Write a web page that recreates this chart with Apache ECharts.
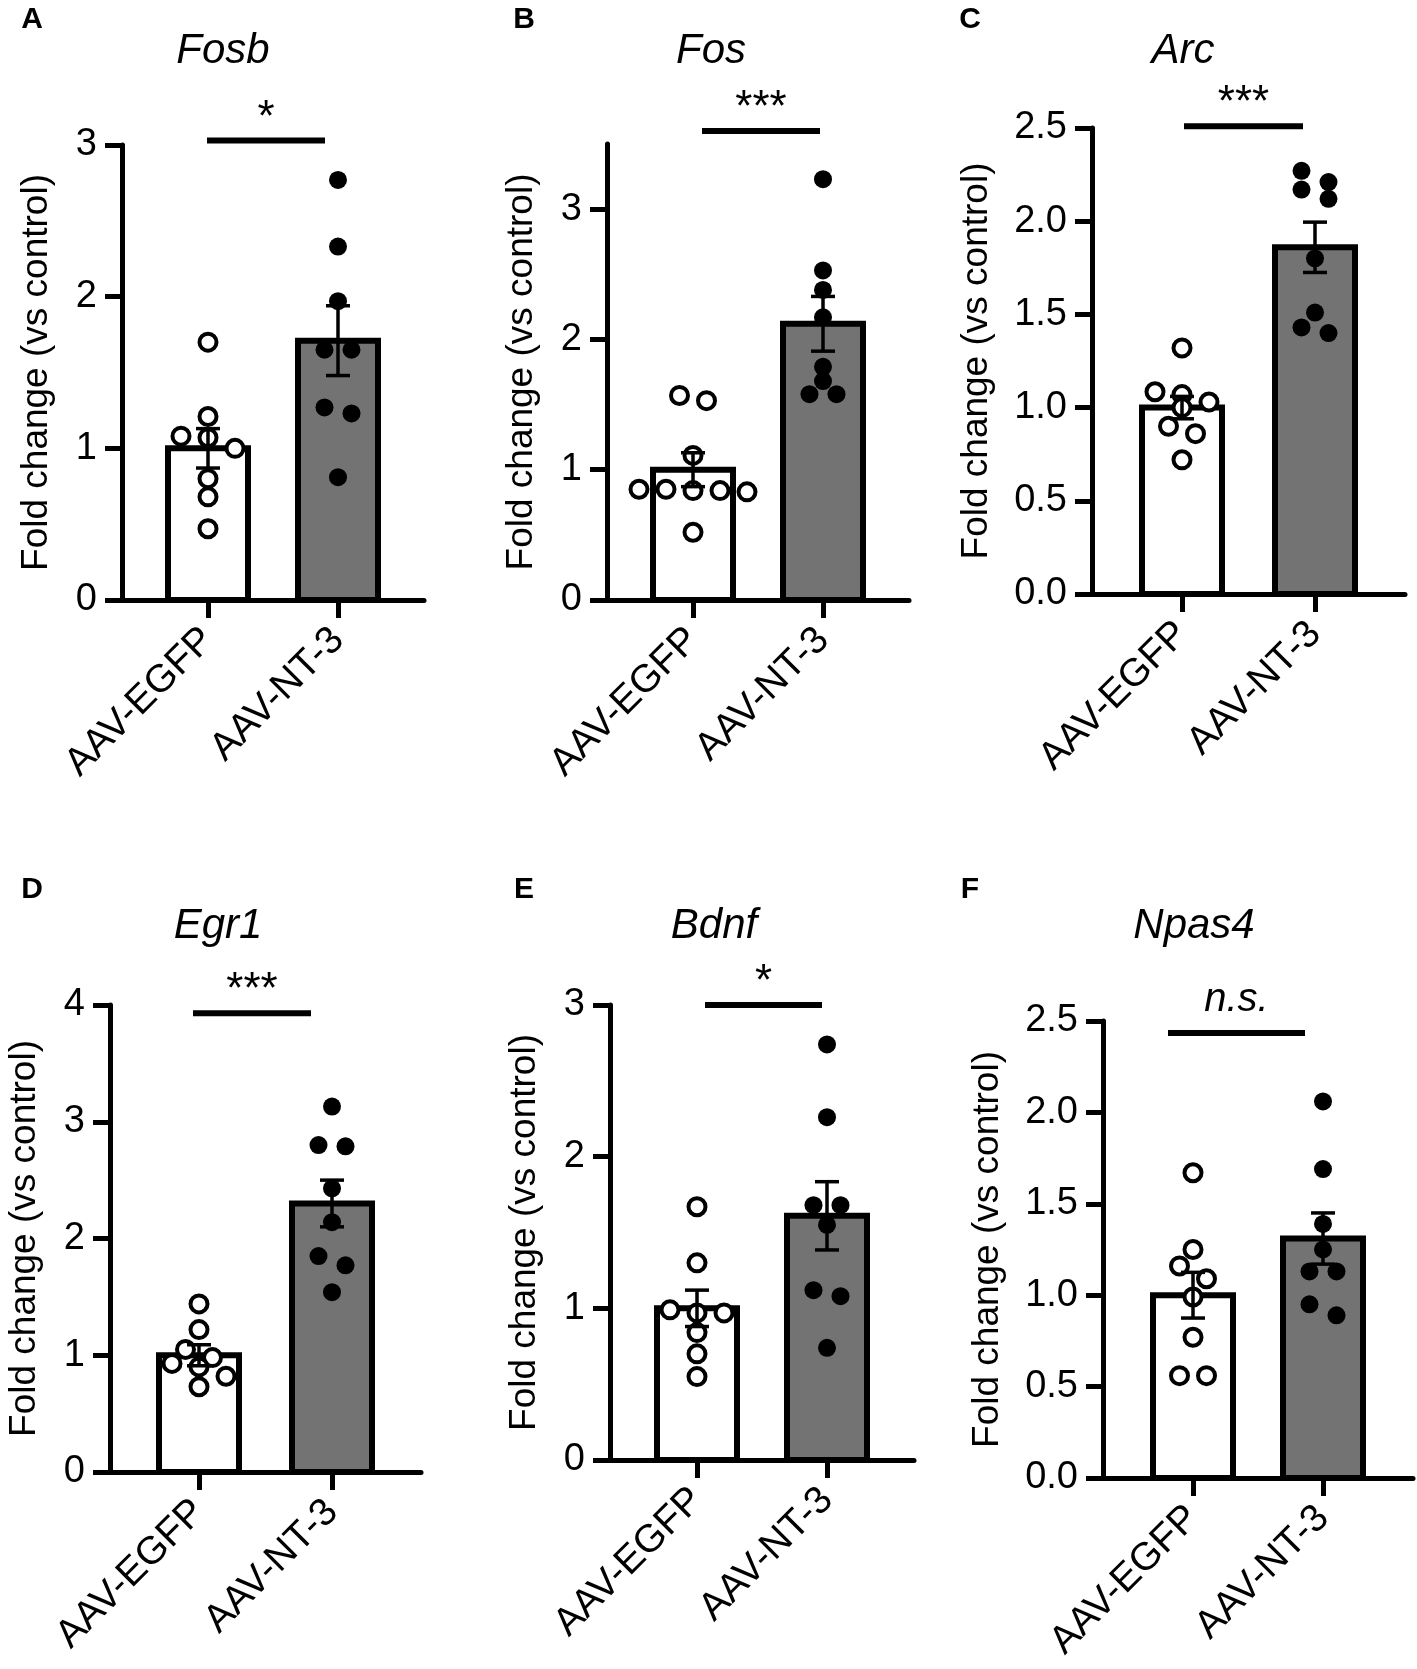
<!DOCTYPE html>
<html>
<head>
<meta charset="utf-8">
<script src="https://cdn.jsdelivr.net/npm/echarts@6/dist/echarts.min.js"></script>
<style>
html, body { margin: 0; padding: 0; background: #fff; }
#chart { width: 1417px; height: 1669px; }
</style>
</head>
<body>
<div id="chart"></div>
<script>
// 数据
var groups = ['AAV-EGFP', 'AAV-NT-3']
var genes = ['Fosb', 'Fos', 'Arc', 'Egr1', 'Bdnf', 'Npas4']
var letters = ['A', 'B', 'C', 'D', 'E', 'F']
var y_max = [3, 3.5, 2.5, 4, 3, 2.5]
var y_ticks = [
    [0, 1, 2, 3],
    [0, 1, 2, 3],
    [0, 0.5, 1, 1.5, 2, 2.5],
    [0, 1, 2, 3, 4],
    [0, 1, 2, 3],
    [0, 0.5, 1, 1.5, 2, 2.5]
]
var tick_digits = [0, 0, 1, 0, 0, 1]
var egfp_mean = [1.00, 1.00, 1.00, 1.00, 1.00, 1.00]
var egfp_sem = [0.13, 0.13, 0.06, 0.09, 0.12, 0.125]
var nt3_mean = [1.71, 2.12, 1.86, 2.30, 1.61, 1.31]
var nt3_sem = [0.23, 0.21, 0.135, 0.20, 0.225, 0.14]
var egfp_points = [
    [1.70, 1.21, 1.08, 1.07, 1.00, 0.80, 0.68, 0.47],
    [1.57, 1.53, 1.11, 0.85, 0.85, 0.84, 0.84, 0.83, 0.52],
    [1.32, 1.085, 1.07, 1.03, 1.00, 0.90, 0.86, 0.72],
    [1.44, 1.22, 1.05, 0.98, 0.93, 0.90, 0.82, 0.73],
    [1.67, 1.30, 0.99, 0.97, 0.97, 0.84, 0.70, 0.55],
    [1.67, 1.25, 1.16, 1.09, 0.99, 0.77, 0.56, 0.56]
]
var nt3_points = [
    [2.77, 2.33, 1.97, 1.65, 1.65, 1.27, 1.23, 0.81],
    [3.23, 2.53, 2.38, 2.17, 1.79, 1.68, 1.58, 1.58],
    [2.27, 2.21, 2.17, 2.12, 1.80, 1.51, 1.43, 1.40],
    [3.13, 2.80, 2.79, 2.43, 2.14, 1.85, 1.77, 1.54],
    [2.74, 2.26, 1.68, 1.68, 1.55, 1.12, 1.08, 0.74],
    [2.06, 1.69, 1.39, 1.25, 1.13, 1.13, 0.95, 0.89]
]
var sig_text = ['*', '***', '***', '***', '*', 'n.s.']
var sig_y = [3.03, 3.6, 2.51, 3.93, 3.0, 2.435]

// 版面 (px)
var layout = [
    {ax: 122, c0: 208, c1: 338, top: 145, bottom: 600, sig: [207, 325], title: [223, 53], letter: [32, 20]},
    {ax: 607, c0: 693, c1: 823, top: 144, bottom: 600, sig: [702, 820], title: [711, 53], letter: [524, 20]},
    {ax: 1092, c0: 1182, c1: 1315, top: 128, bottom: 594, sig: [1184, 1303], title: [1183, 53], letter: [970, 20]},
    {ax: 110, c0: 199, c1: 332, top: 1005, bottom: 1472, sig: [193, 311], title: [218, 928], letter: [32, 890]},
    {ax: 610, c0: 697, c1: 827, top: 1005, bottom: 1460, sig: [705, 822], title: [714, 928], letter: [524, 890]},
    {ax: 1103, c0: 1193, c1: 1323, top: 1021, bottom: 1478, sig: [1168, 1305], title: [1194, 928], letter: [970, 890]}
]
var font = 'Liberation Sans, Arial, sans-serif'
var bar_fill = ['#ffffff', '#737373']
var line_style = {color: '#000', width: 5}

// 散点横向排布 (bee swarm)
function swarm(values, px_per_unit, step){
    let idx = values.map((v, k) => k).sort((a, b) => values[b] - values[a])
    let rows = []
    let row = []
    idx.forEach(k => {
        if(row.length && (values[row[0]] - values[k]) * px_per_unit > 13){
            rows.push(row)
            row = []
        }
        row.push(k)
    })
    if(row.length) rows.push(row)
    let offsets = []
    rows.forEach(r => {
        r.forEach((k, j) => {
            offsets[k] = (j - (r.length - 1) / 2) * step
        })
    })
    return offsets
}

var grid = [], xAxis = [], yAxis = [], series = [], title = []

for(let i = 0; i < 6; i++){
    let L = layout[i]
    let sp = L.c1 - L.c0
    let xmin = (L.ax - L.c0) / sp
    let xmax = 1 - xmin
    let height = L.bottom - L.top
    let px_unit = height / y_max[i]

    grid.push({left: L.ax, top: L.top, width: (xmax - xmin) * sp, height: height})

    xAxis.push({
        type: 'value',
        gridIndex: i,
        min: xmin,
        max: xmax,
        axisLine: {show: true, onZero: false, lineStyle: line_style},
        axisTick: {show: true, customValues: [0, 1], length: 18, lineStyle: line_style},
        axisLabel: {
            show: true,
            customValues: [0, 1],
            formatter: v => groups[Math.round(v)],
            rotate: 45,
            margin: 34,
            fontSize: 39,
            fontFamily: font,
            color: '#000'
        },
        splitLine: {show: false}
    })

    yAxis.push({
        type: 'value',
        gridIndex: i,
        min: 0,
        max: y_max[i],
        name: 'Fold change (vs control)',
        nameLocation: 'middle',
        nameGap: tick_digits[i] ? 97 : 67,
        nameTextStyle: {fontSize: 37, fontFamily: font, color: '#000'},
        axisLine: {show: true, onZero: false, lineStyle: line_style},
        axisTick: {show: true, customValues: y_ticks[i], length: 17, lineStyle: line_style},
        axisLabel: {
            show: true,
            customValues: y_ticks[i],
            formatter: v => v.toFixed(tick_digits[i]),
            margin: 25,
            fontSize: 38,
            fontFamily: font,
            color: '#000'
        },
        splitLine: {show: false}
    })

    title.push({
        text: genes[i],
        left: L.title[0],
        top: L.title[1] - 23,
        textAlign: 'center',
        padding: 0,
        textStyle: {fontSize: 42, fontStyle: 'italic', fontWeight: 'normal', fontFamily: font, color: '#000'}
    })
    title.push({
        text: letters[i],
        left: L.letter[0],
        top: L.letter[1] - 15,
        textAlign: 'center',
        padding: 0,
        textStyle: {fontSize: 30, fontWeight: 'bold', fontFamily: font, color: '#000'}
    })

    // 柱子
    series.push({
        type: 'custom',
        xAxisIndex: i,
        yAxisIndex: i,
        z: 2,
        data: [[0, egfp_mean[i]], [1, nt3_mean[i]]],
        renderItem(params, api){
            let x = api.value(0)
            let top = api.coord([x, api.value(1)])
            let base = api.coord([x, 0])
            return {
                type: 'rect',
                shape: {x: top[0] - 40, y: top[1], width: 80, height: base[1] - top[1]},
                style: {fill: bar_fill[x], stroke: '#000', lineWidth: 6}
            }
        }
    })

    // 散点
    let step = 27 / sp
    let off1 = swarm(egfp_points[i], px_unit, step)
    let off2 = swarm(nt3_points[i], px_unit, step)
    series.push({
        type: 'scatter',
        xAxisIndex: i,
        yAxisIndex: i,
        z: 3,
        symbol: 'circle',
        symbolSize: 17,
        itemStyle: {color: '#fff', borderColor: '#000', borderWidth: 4, opacity: 1},
        data: egfp_points[i].map((v, k) => [off1[k], v])
    })
    series.push({
        type: 'scatter',
        xAxisIndex: i,
        yAxisIndex: i,
        z: 3,
        symbol: 'circle',
        symbolSize: 18,
        itemStyle: {color: '#000', opacity: 1},
        data: nt3_points[i].map((v, k) => [1 + off2[k], v])
    })

    // 误差线
    series.push({
        type: 'custom',
        xAxisIndex: i,
        yAxisIndex: i,
        z: 4,
        data: [[0, egfp_mean[i], egfp_sem[i]], [1, nt3_mean[i], nt3_sem[i]]],
        renderItem(params, api){
            let x = api.value(0)
            let m = api.value(1)
            let e = api.value(2)
            let hi = api.coord([x, m + e])
            let lo = api.coord([x, m - e])
            let st = {stroke: '#000', lineWidth: 3.5}
            return {
                type: 'group',
                children: [
                    {type: 'line', shape: {x1: hi[0], y1: hi[1], x2: lo[0], y2: lo[1]}, style: st},
                    {type: 'line', shape: {x1: hi[0] - 12, y1: hi[1], x2: hi[0] + 12, y2: hi[1]}, style: st},
                    {type: 'line', shape: {x1: lo[0] - 12, y1: lo[1], x2: lo[0] + 12, y2: lo[1]}, style: st}
                ]
            }
        }
    })

    // 显著性
    series.push({
        type: 'custom',
        xAxisIndex: i,
        yAxisIndex: i,
        z: 4,
        data: [[sig_y[i]]],
        renderItem(params, api){
            let y = api.coord([0, api.value(0)])[1]
            let label = sig_text[i]
            let ns = label == 'n.s.'
            return {
                type: 'group',
                children: [
                    {type: 'line', shape: {x1: L.sig[0], y1: y, x2: L.sig[1], y2: y}, style: {stroke: '#000', lineWidth: 6}},
                    {
                        type: 'text',
                        x: (L.sig[0] + L.sig[1]) / 2,
                        y: y - (ns ? 13 : 0),
                        style: {
                            text: label,
                            fontSize: ns ? 40 : 44,
                            fontStyle: ns ? 'italic' : 'normal',
                            fontFamily: font,
                            fill: '#000',
                            textAlign: 'center',
                            textVerticalAlign: 'bottom',
                            align: 'center',
                            verticalAlign: 'bottom'
                        }
                    }
                ]
            }
        }
    })
}

var mychart = echarts.init(document.getElementById('chart'))
mychart.setOption({
    animation: false,
    backgroundColor: '#fff',
    title: title,
    grid: grid,
    xAxis: xAxis,
    yAxis: yAxis,
    series: series
})
</script>
</body>
</html>
